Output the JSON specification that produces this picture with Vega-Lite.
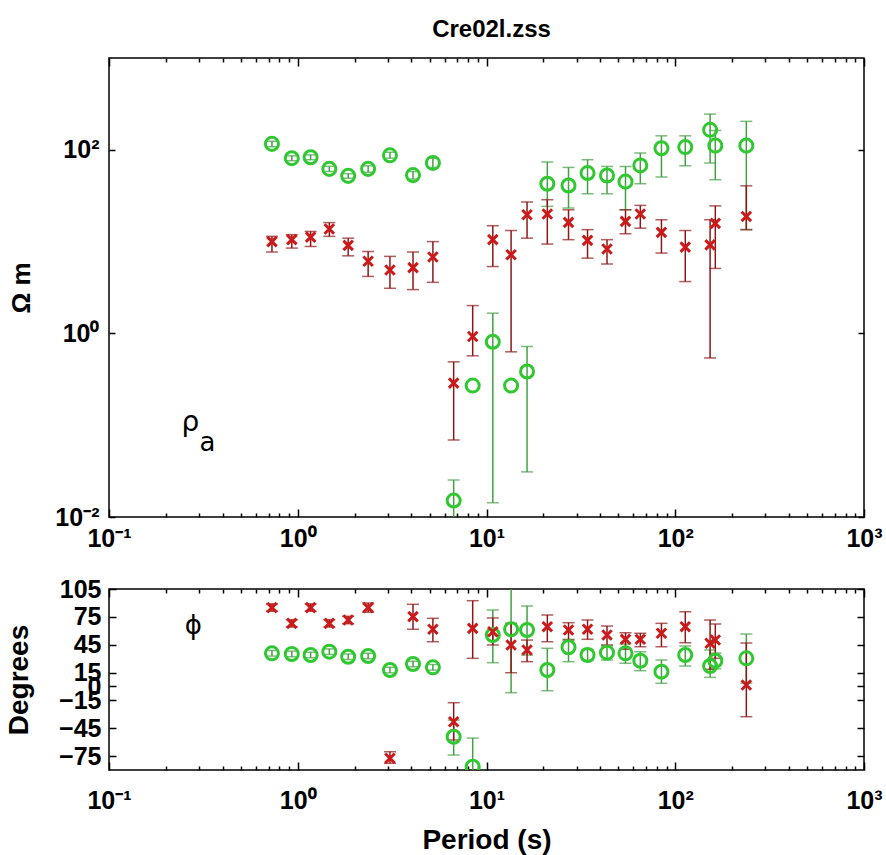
{
  "$schema": "https://vega.github.io/schema/vega-lite/v6.json",
  "padding": {"left": 4, "top": 17, "right": 0, "bottom": 0},
  "background": "white",
  "title": {"text": "Cre02l.zss", "font": "Liberation Sans", "fontSize": 24, "fontWeight": "bold", "color": "black", "anchor": "middle", "offset": 15, "dx": 48},
  "config": {
    "view": {"stroke": "black", "strokeWidth": 1.5},
    "axis": {"domain": false, "grid": false, "tickColor": "black", "tickWidth": 1.5, "labelFont": "Liberation Sans", "labelFontWeight": "bold", "labelFontSize": 25, "labelColor": "black", "titleFont": "Liberation Sans", "titleFontWeight": "bold", "titleFontSize": 28, "titleColor": "black", "labelFlush": false, "labelOverlap": false, "labelBound": false}
  },
  "datasets": {
    "rho": [
      {"series": "yx", "period": 0.73, "value": 116, "lo": 108, "hi": 124},
      {"series": "yx", "period": 0.93, "value": 81, "lo": 76, "hi": 86},
      {"series": "yx", "period": 1.17, "value": 83, "lo": 78, "hi": 88},
      {"series": "yx", "period": 1.47, "value": 62, "lo": 58, "hi": 66},
      {"series": "yx", "period": 1.85, "value": 52, "lo": 49, "hi": 55},
      {"series": "yx", "period": 2.36, "value": 62, "lo": 57, "hi": 67},
      {"series": "yx", "period": 3.08, "value": 87, "lo": 81, "hi": 94},
      {"series": "yx", "period": 4.08, "value": 53, "lo": 48, "hi": 58},
      {"series": "yx", "period": 5.2, "value": 72, "lo": 64, "hi": 81},
      {"series": "yx", "period": 6.7, "value": 0.0151, "lo": 0.009, "hi": 0.0253},
      {"series": "yx", "period": 8.45, "value": 0.27, "lo": null, "hi": null},
      {"series": "yx", "period": 10.8, "value": 0.81, "lo": 0.0143, "hi": 1.66},
      {"series": "yx", "period": 13.5, "value": 0.27, "lo": null, "hi": null},
      {"series": "yx", "period": 16.4, "value": 0.385, "lo": 0.031, "hi": 0.72},
      {"series": "yx", "period": 21, "value": 42.7, "lo": 24.2, "hi": 73.6},
      {"series": "yx", "period": 27.2, "value": 40.8, "lo": 23.2, "hi": 64.3},
      {"series": "yx", "period": 34.3, "value": 55.8, "lo": 33.2, "hi": 78},
      {"series": "yx", "period": 43.5, "value": 52.5, "lo": 33.2, "hi": 65.9},
      {"series": "yx", "period": 54.5, "value": 45, "lo": 22.2, "hi": 65.9},
      {"series": "yx", "period": 65.3, "value": 67.6, "lo": 42.7, "hi": 92.3},
      {"series": "yx", "period": 84.5, "value": 104, "lo": 50.5, "hi": 142},
      {"series": "yx", "period": 113, "value": 107, "lo": 67, "hi": 142},
      {"series": "yx", "period": 153, "value": 165, "lo": 71.8, "hi": 245},
      {"series": "yx", "period": 163, "value": 111, "lo": 47.2, "hi": 162.5},
      {"series": "yx", "period": 238, "value": 111, "lo": 13.5, "hi": 204},
      {"series": "xy", "period": 0.73, "value": 10, "lo": 7.7, "hi": 11.4},
      {"series": "xy", "period": 0.93, "value": 10.5, "lo": 8.5, "hi": 11.9},
      {"series": "xy", "period": 1.17, "value": 11.2, "lo": 8.85, "hi": 12.9},
      {"series": "xy", "period": 1.47, "value": 13.7, "lo": 11.4, "hi": 16.1},
      {"series": "xy", "period": 1.85, "value": 9.1, "lo": 7.0, "hi": 10.9},
      {"series": "xy", "period": 2.36, "value": 6.1, "lo": 4.17, "hi": 7.8},
      {"series": "xy", "period": 3.08, "value": 4.9, "lo": 3.1, "hi": 6.9},
      {"series": "xy", "period": 4.08, "value": 5.2, "lo": 3.0, "hi": 7.7},
      {"series": "xy", "period": 5.2, "value": 6.8, "lo": 3.6, "hi": 10},
      {"series": "xy", "period": 6.7, "value": 0.287, "lo": 0.069, "hi": 0.49},
      {"series": "xy", "period": 8.45, "value": 0.925, "lo": 0.57, "hi": 2.01},
      {"series": "xy", "period": 10.8, "value": 10.5, "lo": 5.35, "hi": 14.9},
      {"series": "xy", "period": 13.5, "value": 7.2, "lo": 0.63, "hi": 13.2},
      {"series": "xy", "period": 16.4, "value": 19.6, "lo": 10.9, "hi": 27},
      {"series": "xy", "period": 21, "value": 20, "lo": 9.4, "hi": 28.6},
      {"series": "xy", "period": 27.2, "value": 16.2, "lo": 10.5, "hi": 22.2},
      {"series": "xy", "period": 34.3, "value": 10.3, "lo": 6.6, "hi": 13.5},
      {"series": "xy", "period": 43.5, "value": 8.3, "lo": 5.7, "hi": 10.5},
      {"series": "xy", "period": 54.5, "value": 16.6, "lo": 12.2, "hi": 22.2},
      {"series": "xy", "period": 65.3, "value": 20, "lo": 14, "hi": 24.8},
      {"series": "xy", "period": 84.5, "value": 12.6, "lo": 7.5, "hi": 17.3},
      {"series": "xy", "period": 113, "value": 8.7, "lo": 3.67, "hi": 13.2},
      {"series": "xy", "period": 153, "value": 9.2, "lo": 0.54, "hi": 17.3},
      {"series": "xy", "period": 163, "value": 15.8, "lo": 5.1, "hi": 24.5},
      {"series": "xy", "period": 238, "value": 18.8, "lo": 13.5, "hi": 40.5}
    ],
    "phi": [
      {"series": "yx", "period": 0.73, "value": 35.7, "lo": 32.7, "hi": 38.7},
      {"series": "yx", "period": 0.93, "value": 35, "lo": 32, "hi": 38},
      {"series": "yx", "period": 1.17, "value": 33.9, "lo": 30.9, "hi": 36.9},
      {"series": "yx", "period": 1.47, "value": 37.5, "lo": 34.5, "hi": 40.5},
      {"series": "yx", "period": 1.85, "value": 32, "lo": 29, "hi": 35},
      {"series": "yx", "period": 2.36, "value": 32.8, "lo": 29.8, "hi": 35.8},
      {"series": "yx", "period": 3.08, "value": 17.7, "lo": 14.7, "hi": 20.7},
      {"series": "yx", "period": 4.08, "value": 24.2, "lo": 21.2, "hi": 27.2},
      {"series": "yx", "period": 5.2, "value": 20.6, "lo": 17.6, "hi": 23.6},
      {"series": "yx", "period": 6.7, "value": -54.2, "lo": -73.9, "hi": -36.2},
      {"series": "yx", "period": 8.45, "value": -86.5, "lo": -95, "hi": -55.6},
      {"series": "yx", "period": 10.8, "value": 55.4, "lo": 25.6, "hi": 82.4},
      {"series": "yx", "period": 13.5, "value": 61.6, "lo": -6.7, "hi": 110},
      {"series": "yx", "period": 16.4, "value": 60.8, "lo": 33.9, "hi": 86.7},
      {"series": "yx", "period": 21, "value": 17.7, "lo": -4.6, "hi": 41.1},
      {"series": "yx", "period": 27.2, "value": 42.2, "lo": 26.7, "hi": 50.8},
      {"series": "yx", "period": 34.3, "value": 33.9, "lo": 28, "hi": 40},
      {"series": "yx", "period": 43.5, "value": 36.4, "lo": 28.5, "hi": 43.6},
      {"series": "yx", "period": 54.5, "value": 35.7, "lo": 24.9, "hi": 45.7},
      {"series": "yx", "period": 65.3, "value": 27.7, "lo": 17, "hi": 37.4},
      {"series": "yx", "period": 84.5, "value": 15.9, "lo": 3.4, "hi": 28.5},
      {"series": "yx", "period": 113, "value": 33.9, "lo": 22, "hi": 43.6},
      {"series": "yx", "period": 153, "value": 22, "lo": 9.8, "hi": 39.3},
      {"series": "yx", "period": 163, "value": 27.7, "lo": 19, "hi": 36},
      {"series": "yx", "period": 238, "value": 30.3, "lo": 3.7, "hi": 56.5},
      {"series": "xy", "period": 0.73, "value": 84.9, "lo": 81, "hi": 89},
      {"series": "xy", "period": 0.93, "value": 68, "lo": 64, "hi": 72},
      {"series": "xy", "period": 1.17, "value": 84.9, "lo": 81, "hi": 89},
      {"series": "xy", "period": 1.47, "value": 68, "lo": 64, "hi": 72},
      {"series": "xy", "period": 1.85, "value": 71.6, "lo": 67.6, "hi": 75.6},
      {"series": "xy", "period": 2.36, "value": 84.9, "lo": 80, "hi": 89.9},
      {"series": "xy", "period": 3.08, "value": -77.4, "lo": -82.8, "hi": -70.3},
      {"series": "xy", "period": 4.08, "value": 75.2, "lo": 61.6, "hi": 88.5},
      {"series": "xy", "period": 5.2, "value": 61.6, "lo": 48.2, "hi": 73.4},
      {"series": "xy", "period": 6.7, "value": -38, "lo": -57.7, "hi": -17.5},
      {"series": "xy", "period": 8.45, "value": 62.6, "lo": 30.3, "hi": 92.4},
      {"series": "xy", "period": 10.8, "value": 59, "lo": 44.7, "hi": 73.8},
      {"series": "xy", "period": 13.5, "value": 44.7, "lo": 14.8, "hi": 68},
      {"series": "xy", "period": 16.4, "value": 39.3, "lo": 26.7, "hi": 50},
      {"series": "xy", "period": 21, "value": 64.4, "lo": 48.2, "hi": 77},
      {"series": "xy", "period": 27.2, "value": 60.8, "lo": 50, "hi": 68.7},
      {"series": "xy", "period": 34.3, "value": 61.6, "lo": 50.8, "hi": 71.6},
      {"series": "xy", "period": 43.5, "value": 55.4, "lo": 44.7, "hi": 65.1},
      {"series": "xy", "period": 54.5, "value": 50.8, "lo": 40, "hi": 57.9},
      {"series": "xy", "period": 65.3, "value": 50.8, "lo": 42.8, "hi": 57.3},
      {"series": "xy", "period": 84.5, "value": 57.3, "lo": 42.8, "hi": 68},
      {"series": "xy", "period": 113, "value": 64.4, "lo": 47.1, "hi": 80.5},
      {"series": "xy", "period": 153, "value": 46.5, "lo": 18.5, "hi": 71.6},
      {"series": "xy", "period": 163, "value": 50, "lo": 30.3, "hi": 67.3},
      {"series": "xy", "period": 238, "value": 1.6, "lo": -32.6, "hi": 46.8}
    ]
  },
  "vconcat": [
    {
      "width": 755,
      "height": 459,
      "data": {"name": "rho"},
      "resolve": {"axis": {"x": "independent", "y": "independent"}},
      "layer": [
        {
          "transform": [{"filter": "datum.series == 'yx' && isValid(datum.lo)"}],
          "mark": {"type": "rule", "color": "#44a044", "strokeWidth": 1.5, "clip": true},
          "encoding": {
            "x": {"field": "period", "type": "quantitative", "scale": {"type": "log", "domain": [0.1, 1000], "nice": false}, "axis": {"orient": "bottom", "values": [0.2,0.3,0.4,0.5,0.6,0.7,0.8,0.9,2,3,4,5,6,7,8,9,20,30,40,50,60,70,80,90,200,300,400,500,600,700,800,900], "tickSize": -4, "labels": false, "title": null}},
            "y": {"field": "lo", "type": "quantitative", "scale": {"type": "log", "domain": [0.01, 1000], "nice": false}, "axis": null},
            "y2": {"field": "hi"}
          }
        },
        {
          "transform": [{"filter": "datum.series == 'yx' && isValid(datum.lo)"}, {"fold": ["lo", "hi"], "as": ["bound", "bv"]}],
          "mark": {"type": "tick", "orient": "horizontal", "size": 12, "thickness": 1.5, "color": "#44a044", "clip": true},
          "encoding": {
            "x": {"field": "period", "type": "quantitative", "scale": {"type": "log", "domain": [0.1, 1000], "nice": false}, "axis": null},
            "y": {"field": "bv", "type": "quantitative", "scale": {"type": "log", "domain": [0.01, 1000], "nice": false}, "axis": null}
          }
        },
        {
          "transform": [{"filter": "datum.series == 'xy' && isValid(datum.lo)"}],
          "mark": {"type": "rule", "color": "#8e1818", "strokeWidth": 1.5, "clip": true},
          "encoding": {
            "x": {"field": "period", "type": "quantitative", "scale": {"type": "log", "domain": [0.1, 1000], "nice": false}, "axis": {"orient": "top", "values": [0.2,0.3,0.4,0.5,0.6,0.7,0.8,0.9,2,3,4,5,6,7,8,9,20,30,40,50,60,70,80,90,200,300,400,500,600,700,800,900], "tickSize": -4, "labels": false, "title": null}},
            "y": {"field": "lo", "type": "quantitative", "scale": {"type": "log", "domain": [0.01, 1000], "nice": false}, "axis": null},
            "y2": {"field": "hi"}
          }
        },
        {
          "transform": [{"filter": "datum.series == 'xy' && isValid(datum.lo)"}, {"fold": ["lo", "hi"], "as": ["bound", "bv"]}],
          "mark": {"type": "tick", "orient": "horizontal", "size": 12, "thickness": 1.5, "color": "#8e1818", "clip": true},
          "encoding": {
            "x": {"field": "period", "type": "quantitative", "scale": {"type": "log", "domain": [0.1, 1000], "nice": false}, "axis": null},
            "y": {"field": "bv", "type": "quantitative", "scale": {"type": "log", "domain": [0.01, 1000], "nice": false}, "axis": null}
          }
        },
        {
          "transform": [{"filter": "datum.series == 'yx'"}],
          "mark": {"type": "point", "shape": "circle", "size": 170, "strokeWidth": 3, "color": "#30c830", "filled": false, "opacity": 1, "clip": true},
          "encoding": {
            "x": {"field": "period", "type": "quantitative", "scale": {"type": "log", "domain": [0.1, 1000], "nice": false}, "axis": {"orient": "bottom", "values": [0.1, 1, 10, 100, 1000], "tickSize": -8, "labelPadding": 17, "title": null, "labelExpr": "datum.value < 0.5 ? '10⁻¹' : datum.value < 5 ? '10⁰' : datum.value < 50 ? '10¹' : datum.value < 500 ? '10²' : '10³'"}},
            "y": {"field": "value", "type": "quantitative", "scale": {"type": "log", "domain": [0.01, 1000], "nice": false}, "axis": {"orient": "left", "values": [0.01, 1, 100], "tickSize": -6, "labelPadding": 16, "title": "Ω m", "titleFontSize": 26, "titleX": -75, "labelExpr": "datum.value < 0.1 ? '10⁻²' : datum.value < 10 ? '10⁰' : '10²'"}}
          }
        },
        {
          "transform": [{"filter": "datum.series == 'xy'"}],
          "mark": {"type": "point", "shape": "M-1,-1L1,1M-1,1L1,-1", "size": 90, "strokeWidth": 3, "color": "#cc1a1a", "filled": false, "opacity": 1, "clip": true},
          "encoding": {
            "x": {"field": "period", "type": "quantitative", "scale": {"type": "log", "domain": [0.1, 1000], "nice": false}, "axis": {"orient": "top", "values": [0.1, 1, 10, 100, 1000], "tickSize": -8, "labels": false, "title": null}},
            "y": {"field": "value", "type": "quantitative", "scale": {"type": "log", "domain": [0.01, 1000], "nice": false}, "axis": {"orient": "right", "values": [0.01, 1, 100], "tickSize": -6, "labels": false, "title": null}}
          }
        },
        {
          "data": {"values": [{}]},
          "mark": {"type": "text", "text": "ρ", "font": "DejaVu Sans", "fontSize": 28, "align": "center", "baseline": "alphabetic", "color": "black"},
          "encoding": {
            "x": {"datum": 0.27, "type": "quantitative", "scale": {"type": "log", "domain": [0.1, 1000], "nice": false}, "axis": null},
            "y": {"datum": 0.0867, "type": "quantitative", "scale": {"type": "log", "domain": [0.01, 1000], "nice": false}, "axis": null}
          }
        },
        {
          "data": {"values": [{}]},
          "mark": {"type": "text", "text": "a", "font": "DejaVu Sans", "fontSize": 26, "align": "center", "baseline": "alphabetic", "color": "black", "dx": 17, "dy": 20},
          "encoding": {
            "x": {"datum": 0.27, "type": "quantitative", "scale": {"type": "log", "domain": [0.1, 1000], "nice": false}, "axis": null},
            "y": {"datum": 0.0867, "type": "quantitative", "scale": {"type": "log", "domain": [0.01, 1000], "nice": false}, "axis": null}
          }
        }
      ]
    },
    {
      "width": 755,
      "height": 181,
      "data": {"name": "phi"},
      "resolve": {"axis": {"x": "independent", "y": "independent"}},
      "layer": [
        {
          "transform": [{"filter": "datum.series == 'yx' && isValid(datum.lo)"}],
          "mark": {"type": "rule", "color": "#44a044", "strokeWidth": 1.5, "clip": true},
          "encoding": {
            "x": {"field": "period", "type": "quantitative", "scale": {"type": "log", "domain": [0.1, 1000], "nice": false}, "axis": {"orient": "bottom", "values": [0.2,0.3,0.4,0.5,0.6,0.7,0.8,0.9,2,3,4,5,6,7,8,9,20,30,40,50,60,70,80,90,200,300,400,500,600,700,800,900], "tickSize": -4, "labels": false, "title": null}},
            "y": {"field": "lo", "type": "quantitative", "scale": {"domain": [-90, 105], "nice": false, "zero": false}, "axis": null},
            "y2": {"field": "hi"}
          }
        },
        {
          "transform": [{"filter": "datum.series == 'yx' && isValid(datum.lo)"}, {"fold": ["lo", "hi"], "as": ["bound", "bv"]}],
          "mark": {"type": "tick", "orient": "horizontal", "size": 12, "thickness": 1.5, "color": "#44a044", "clip": true},
          "encoding": {
            "x": {"field": "period", "type": "quantitative", "scale": {"type": "log", "domain": [0.1, 1000], "nice": false}, "axis": null},
            "y": {"field": "bv", "type": "quantitative", "scale": {"domain": [-90, 105], "nice": false, "zero": false}, "axis": null}
          }
        },
        {
          "transform": [{"filter": "datum.series == 'xy' && isValid(datum.lo)"}],
          "mark": {"type": "rule", "color": "#8e1818", "strokeWidth": 1.5, "clip": true},
          "encoding": {
            "x": {"field": "period", "type": "quantitative", "scale": {"type": "log", "domain": [0.1, 1000], "nice": false}, "axis": {"orient": "top", "values": [0.2,0.3,0.4,0.5,0.6,0.7,0.8,0.9,2,3,4,5,6,7,8,9,20,30,40,50,60,70,80,90,200,300,400,500,600,700,800,900], "tickSize": -4, "labels": false, "title": null}},
            "y": {"field": "lo", "type": "quantitative", "scale": {"domain": [-90, 105], "nice": false, "zero": false}, "axis": null},
            "y2": {"field": "hi"}
          }
        },
        {
          "transform": [{"filter": "datum.series == 'xy' && isValid(datum.lo)"}, {"fold": ["lo", "hi"], "as": ["bound", "bv"]}],
          "mark": {"type": "tick", "orient": "horizontal", "size": 12, "thickness": 1.5, "color": "#8e1818", "clip": true},
          "encoding": {
            "x": {"field": "period", "type": "quantitative", "scale": {"type": "log", "domain": [0.1, 1000], "nice": false}, "axis": null},
            "y": {"field": "bv", "type": "quantitative", "scale": {"domain": [-90, 105], "nice": false, "zero": false}, "axis": null}
          }
        },
        {
          "transform": [{"filter": "datum.series == 'yx'"}],
          "mark": {"type": "point", "shape": "circle", "size": 170, "strokeWidth": 3, "color": "#30c830", "filled": false, "opacity": 1, "clip": true},
          "encoding": {
            "x": {"field": "period", "type": "quantitative", "scale": {"type": "log", "domain": [0.1, 1000], "nice": false}, "axis": {"orient": "bottom", "values": [0.1, 1, 10, 100, 1000], "tickSize": -8, "labelPadding": 26, "title": "Period (s)", "titlePadding": 13, "labelExpr": "datum.value < 0.5 ? '10⁻¹' : datum.value < 5 ? '10⁰' : datum.value < 50 ? '10¹' : datum.value < 500 ? '10²' : '10³'"}},
            "y": {"field": "value", "type": "quantitative", "scale": {"domain": [-90, 105], "nice": false, "zero": false}, "axis": {"orient": "left", "values": [105, 75, 45, 15, 0, -15, -45, -75], "tickSize": -7, "labelPadding": 15, "title": "Degrees", "titleX": -76}}
          }
        },
        {
          "transform": [{"filter": "datum.series == 'xy'"}],
          "mark": {"type": "point", "shape": "M-1,-1L1,1M-1,1L1,-1", "size": 90, "strokeWidth": 3, "color": "#cc1a1a", "filled": false, "opacity": 1, "clip": true},
          "encoding": {
            "x": {"field": "period", "type": "quantitative", "scale": {"type": "log", "domain": [0.1, 1000], "nice": false}, "axis": {"orient": "top", "values": [0.1, 1, 10, 100, 1000], "tickSize": -8, "labels": false, "title": null}},
            "y": {"field": "value", "type": "quantitative", "scale": {"domain": [-90, 105], "nice": false, "zero": false}, "axis": {"orient": "right", "values": [105, 75, 45, 15, 0, -15, -45, -75], "tickSize": -7, "labels": false, "title": null}}
          }
        },
        {
          "data": {"values": [{}]},
          "mark": {"type": "text", "text": "ϕ", "font": "DejaVu Sans", "fontSize": 26, "align": "center", "baseline": "middle", "color": "black"},
          "encoding": {
            "x": {"datum": 0.28, "type": "quantitative", "scale": {"type": "log", "domain": [0.1, 1000], "nice": false}, "axis": null},
            "y": {"datum": 65, "type": "quantitative", "scale": {"domain": [-90, 105], "nice": false, "zero": false}, "axis": null}
          }
        }
      ]
    }
  ],
  "spacing": 72,
  "bounds": "flush"
}
